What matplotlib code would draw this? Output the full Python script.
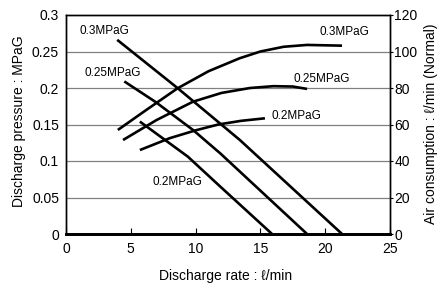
import matplotlib
matplotlib.use("Agg")
import matplotlib.pyplot as plt

plt.rcParams["font.family"] = ["Liberation Sans", "DejaVu Sans"]

# discharge pressure curves (left axis)
p03_x = [3.95, 8.6, 13.4, 21.3]
p03_y = [0.266, 0.200, 0.129, 0.0]
p025_x = [4.5, 6.9, 9.8, 11.9, 18.6]
p025_y = [0.209, 0.181, 0.1425, 0.1105, 0.0]
p02_x = [5.7, 9.4, 11.9, 15.9]
p02_y = [0.154, 0.106, 0.065, 0.0]

# air consumption curves (right axis)
a03_x = [4.0, 6.0, 8.6, 11.0, 13.4, 15.0, 16.8, 18.6, 21.3]
a03_y = [57.0, 67.0, 79.8, 89.2, 96.3, 100.0, 102.6, 103.6, 103.2]
a025_x = [4.4, 7.0, 9.8, 12.0, 14.2, 16.0, 17.5, 18.6]
a025_y = [51.5, 62.5, 72.5, 77.3, 80.0, 81.0, 80.8, 79.5]
a02_x = [5.7, 8.0, 10.0, 11.75, 13.5, 15.35]
a02_y = [46.0, 52.5, 56.8, 60.0, 62.0, 63.4]

x_ticks = [0, 5, 10, 15, 20, 25]
p_ticks = [0, 0.05, 0.1, 0.15, 0.2, 0.25, 0.3]
p_tick_labels = ["0", "0.05", "0.1", "0.15", "0.2", "0.25", "0.3"]
a_ticks = [0, 20, 40, 60, 80, 100, 120]

fig = plt.figure(figsize=(4.39, 2.86), dpi=100)
ax = fig.add_axes([66 / 439, 52 / 286, 324 / 439, 219 / 286])
ax2 = ax.twinx()

ax.set_xlim(0, 25)
ax.set_ylim(0, 0.3)
ax2.set_ylim(0, 120)

for g in p_ticks[1:-1]:
    ax.axhline(g, color="#808080", lw=0.9, zorder=1)

lw = 1.9
ax.plot(p03_x, p03_y, color="black", lw=lw, solid_capstyle="butt")
ax.plot(p025_x, p025_y, color="black", lw=lw, solid_capstyle="butt")
ax.plot(p02_x, p02_y, color="black", lw=lw, solid_capstyle="butt")
ax2.plot(a03_x, a03_y, color="black", lw=lw, solid_capstyle="butt")
ax2.plot(a025_x, a025_y, color="black", lw=lw, solid_capstyle="butt")
ax2.plot(a02_x, a02_y, color="black", lw=lw, solid_capstyle="butt")

fs = 8.5
ax.text(3.0, 0.278, "0.3MPaG", fontsize=fs, ha="center", va="center")
ax.text(3.6, 0.2205, "0.25MPaG", fontsize=fs, ha="center", va="center")
ax.text(8.6, 0.071, "0.2MPaG", fontsize=fs, ha="center", va="center")
ax2.text(21.45, 110.7, "0.3MPaG", fontsize=fs, ha="center", va="center")
ax2.text(19.75, 84.9, "0.25MPaG", fontsize=fs, ha="center", va="center")
ax2.text(17.75, 64.7, "0.2MPaG", fontsize=fs, ha="center", va="center")

ax.set_xticks(x_ticks)
ax.set_yticks(p_ticks)
ax.set_yticklabels(p_tick_labels)
ax2.set_yticks(a_ticks)
ax.tick_params(axis="x", direction="in", length=4, labelsize=10, pad=6)
ax.tick_params(axis="y", direction="in", length=0, labelsize=10, pad=5)
ax2.tick_params(axis="y", direction="out", length=2, labelsize=10, pad=1)

for a in (ax, ax2):
    for s in a.spines.values():
        s.set_linewidth(1.0)
ax.spines["bottom"].set_linewidth(2.0)
ax2.spines["bottom"].set_linewidth(2.0)

fig.text(226 / 439, 1 - 276 / 286, "Discharge rate : \u2113/min",
         fontsize=10, ha="center", va="center")
fig.text(19 / 439, 1 - 121 / 286, "Discharge pressure : MPaG",
         fontsize=10, ha="center", va="center", rotation=90)
fig.text(431 / 439, 1 - 124 / 286, "Air consumption : \u2113/min (Normal)",
         fontsize=10, ha="center", va="center", rotation=90)

fig.savefig("out.png", dpi=100)
